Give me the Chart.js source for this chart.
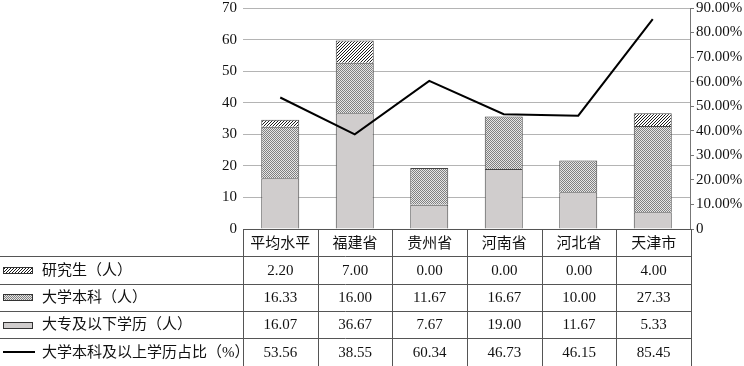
<!DOCTYPE html>
<html>
<head>
<meta charset="utf-8">
<script src="https://cdn.jsdelivr.net/npm/chart.js"></script>
<style>
  html, body { margin: 0; padding: 0; background: #fff; }
  #wrap { position: relative; width: 744px; height: 366px; }
</style>
</head>
<body>
<div id="wrap"><canvas id="myChart" width="744" height="366"></canvas></div>
<script>
// datos
const categories = ['平均水平', '福建省', '贵州省', '河南省', '河北省', '天津市']
const graduate = [2.20, 7.00, 0.00, 0.00, 0.00, 4.00]
const bachelor = [16.33, 16.00, 11.67, 16.67, 10.00, 27.33]
const college = [16.07, 36.67, 7.67, 19.00, 11.67, 5.33]
const ratio = [53.56, 38.55, 60.34, 46.73, 46.15, 85.45]

const seriesNames = ['研究生（人）', '大学本科（人）', '大专及以下学历（人）', '大学本科及以上学历占比（%）']

const FONT = "'Liberation Serif', 'Noto Sans CJK SC', serif"

// patrones de relleno
function makePattern (size, draw) {
  const tile = document.createElement('canvas')
  tile.width = size
  tile.height = size
  const t = tile.getContext('2d')
  t.fillStyle = '#fff'
  t.fillRect(0, 0, size, size)
  draw(t, size)
  return document.createElement('canvas').getContext('2d').createPattern(tile, 'repeat')
}

// rayas diagonales ////
const hatch = makePattern(3, t => {
  t.fillStyle = '#1a1a1a'
  t.fillRect(2, 0, 1, 1)
  t.fillRect(1, 1, 1, 1)
  t.fillRect(0, 2, 1, 1)
})

// tramado fino tipo damero
const cross = makePattern(2, t => {
  t.fillStyle = '#e6e6e6'
  t.fillRect(0, 0, 2, 2)
  t.fillStyle = '#808080'
  t.fillRect(0, 0, 1, 1)
  t.fillRect(1, 1, 1, 1)
})

const grayFill = '#d0cdcd'

const tablePlugin = {
  id: 'dataTable',
  afterDraw (chart) {
    const ctx = chart.ctx
    const area = chart.chartArea
    const left = area.left
    const right = area.right + 1
    const colW = (right - left) / categories.length
    const top = area.bottom
    const rowH = 27.3
    const bottom = chart.height
    const rows = [graduate, bachelor, college, ratio]

    ctx.save()
    ctx.strokeStyle = '#555'
    ctx.lineWidth = 1

    // borde superior (eje x)
    ctx.beginPath()
    ctx.moveTo(left, top + 0.5)
    ctx.lineTo(right, top + 0.5)
    for (let r = 1; r <= 4; r++) {
      const y = Math.round(top + r * rowH) + 0.5
      ctx.moveTo(0, y)
      ctx.lineTo(right, y)
    }
    for (let c = 0; c <= categories.length; c++) {
      const x = Math.round(left + c * colW) + 0.5
      ctx.moveTo(x, top)
      ctx.lineTo(x, bottom)
    }
    ctx.stroke()

    ctx.fillStyle = '#111'
    ctx.textAlign = 'center'
    ctx.textBaseline = 'middle'
    ctx.font = '15px ' + FONT
    categories.forEach((cat, i) => {
      ctx.fillText(cat, left + (i + 0.5) * colW, top + rowH / 2 + 1)
    })
    rows.forEach((vals, r) => {
      const y = top + (r + 1.5) * rowH + 1
      vals.forEach((v, i) => {
        ctx.fillText(v.toFixed(2), left + (i + 0.5) * colW, y)
      })
    })

    // leyenda en la primera columna
    const fills = [hatch, cross, grayFill]
    ctx.textAlign = 'left'
    seriesNames.forEach((name, r) => {
      const yc = top + (r + 1.5) * rowH
      if (r < 3) {
        ctx.fillStyle = fills[r]
        ctx.fillRect(3, Math.round(yc) - 3, 30, 7)
        ctx.strokeStyle = '#333'
        ctx.strokeRect(3.5, Math.round(yc) - 2.5, 29, 6)
      } else {
        ctx.strokeStyle = '#000'
        ctx.lineWidth = 2
        ctx.beginPath()
        ctx.moveTo(3, Math.round(yc))
        ctx.lineTo(35, Math.round(yc))
        ctx.stroke()
        ctx.lineWidth = 1
      }
      ctx.fillStyle = '#111'
      ctx.fillText(name, 42, yc + 1)
    })
    ctx.restore()
  }
}

const ctx = document.getElementById('myChart').getContext('2d')
const myChart = new Chart(ctx, {
  type: 'bar',
  data: {
    labels: categories,
    datasets: [
      {
        type: 'line',
        label: seriesNames[3],
        data: ratio,
        yAxisID: 'y1',
        borderColor: '#000',
        borderWidth: 2,
        pointRadius: 0,
        tension: 0,
        fill: false,
        order: 0
      },
      {
        label: seriesNames[2],
        data: college,
        backgroundColor: grayFill,
        borderColor: '#444',
        borderWidth: 1,
        stack: 's',
        order: 1
      },
      {
        label: seriesNames[1],
        data: bachelor,
        backgroundColor: cross,
        borderColor: '#444',
        borderWidth: 1,
        stack: 's',
        order: 1
      },
      {
        label: seriesNames[0],
        data: graduate,
        backgroundColor: hatch,
        borderColor: '#444',
        borderWidth: 1,
        stack: 's',
        order: 1
      }
    ]
  },
  options: {
    responsive: false,
    animation: false,
    datasets: { bar: { barPercentage: 0.51, categoryPercentage: 1 } },
    layout: { padding: { left: 0, right: 0, top: 8, bottom: 137 } },
    plugins: { legend: { display: false }, tooltip: { enabled: false } },
    scales: {
      x: { display: false, stacked: true },
      y: {
        stacked: true,
        min: 0,
        max: 70,
        ticks: { stepSize: 10, padding: 6, color: '#111', font: { family: FONT, size: 15 } },
        grid: { color: '#b4b4b4', drawTicks: false },
        border: { display: false },
        afterFit (scale) {
          scale.width = 243
          scale.paddingTop = 0
          scale.paddingBottom = 0
        }
      },
      y1: {
        position: 'right',
        min: 0,
        max: 90,
        ticks: {
          stepSize: 10,
          padding: 2,
          color: '#111',
          font: { family: FONT, size: 15 },
          callback: v => v === 0 ? '0' : v.toFixed(2) + '%'
        },
        grid: { drawOnChartArea: false, drawTicks: true, tickLength: 4, color: '#777' },
        border: { display: true, color: '#777' },
        afterFit (scale) {
          scale.width = 54
          scale.paddingTop = 0
          scale.paddingBottom = 0
        }
      }
    }
  },
  plugins: [tablePlugin]
})
</script>
</body>
</html>
